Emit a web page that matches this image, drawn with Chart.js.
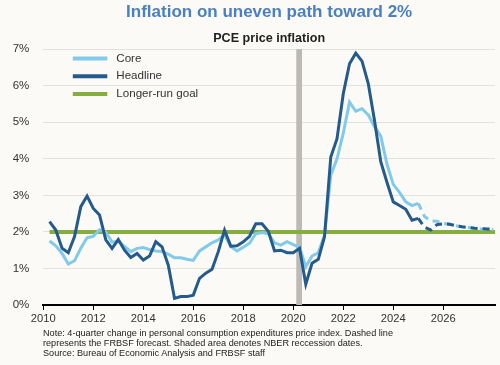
<!DOCTYPE html>
<html>
<head>
<meta charset="utf-8">
<script src="https://cdn.jsdelivr.net/npm/chart.js@4.4.1/dist/chart.umd.min.js"></script>
<style>
  html, body { margin: 0; padding: 0; background: #fbfaf7; }
  #wrap { position: relative; width: 500px; height: 365px; }
  #note {
    position: absolute; left: 43px; top: 329px;
    font: 9.15px "Liberation Sans", Arial, sans-serif; line-height: 9.8px; color: #222;
  }
</style>
</head>
<body>
<div id="wrap">
  <canvas id="chart" width="500" height="365"></canvas>
  <div id="note">
    Note: 4-quarter change in personal consumption expenditures price index. Dashed line<br>
    represents the FRBSF forecast. Shaded area denotes NBER reccession dates.<br>
    Source: Bureau of Economic Analysis and FRBSF staff
  </div>
</div>
<script>
// quarterly data, first quarter 2010Q1, plotted at quarter end
const firstYear = 2010;

// 2010Q1 - 2024Q4 (actual)
const coreActual = [
  1.75, 1.62, 1.41, 1.12,
  1.21, 1.55, 1.84, 1.88,
  2.06, 1.99, 1.72, 1.75,
  1.60, 1.46, 1.55, 1.57,
  1.52, 1.48, 1.46, 1.39,
  1.29, 1.29, 1.25, 1.22,
  1.48, 1.59, 1.70, 1.78,
  1.92, 1.60, 1.48, 1.58,
  1.69, 1.95, 1.98, 1.95,
  1.70, 1.64, 1.73, 1.65,
  1.58, 1.05, 1.34, 1.43,
  1.91, 3.55, 4.00, 4.70,
  5.55, 5.30, 5.37, 5.20,
  4.88, 4.62, 3.85, 3.30,
  3.08, 2.82, 2.72, 2.78
];
const headlineActual = [
  2.28, 2.05, 1.55, 1.43,
  1.87, 2.69, 2.98, 2.64,
  2.46, 1.78, 1.55, 1.79,
  1.50, 1.30, 1.41, 1.23,
  1.34, 1.73, 1.59, 1.09,
  0.18, 0.23, 0.23, 0.27,
  0.73, 0.87, 0.98, 1.46,
  2.05, 1.61, 1.62, 1.73,
  1.88, 2.22, 2.22, 2.02,
  1.48, 1.50, 1.43, 1.43,
  1.55, 0.57, 1.14, 1.25,
  1.87, 4.05, 4.55, 5.78,
  6.60, 6.89, 6.67, 6.06,
  5.05, 3.92, 3.35, 2.82,
  2.72, 2.62, 2.32, 2.37
];

// 2025Q1 - 2027Q4 (FRBSF forecast)
const coreForecast = [2.42, 2.30, 2.29, 2.23, 2.21, 2.17, 2.14, 2.12, 2.10, 2.08, 2.07, 2.06];
const headlineForecast = [2.13, 2.05, 2.20, 2.22, 2.21, 2.17, 2.14, 2.12, 2.10, 2.09, 2.08, 2.07];

const goalValue = 2;
const goalSpan = [2010.25, 2028.07];
const recession = [2020.12, 2020.35];
const xTicks = [2010, 2012, 2014, 2016, 2018, 2020, 2022, 2024, 2026];
const yTicks = [0, 1, 2, 3, 4, 5, 6, 7];

const colors = { core: '#82cae9', headline: '#245a8c', goal: '#86ad40' };

const toPoints = (values) => values.map((v, i) => ({ x: firstYear + (i + 1) / 4, y: v }));
const lastActualX = firstYear + coreActual.length / 4;
const dashAfter = (ctx) => (ctx.p0.parsed.x >= lastActualX ? [7, 5] : undefined);

const recessionPlugin = {
  id: 'recession',
  beforeDatasetsDraw(chart) {
    const { ctx, chartArea, scales } = chart;
    const x0 = scales.x.getPixelForValue(recession[0]);
    const x1 = scales.x.getPixelForValue(recession[1]);
    ctx.save();
    ctx.fillStyle = '#bdbab6';
    ctx.fillRect(x0, chartArea.top, x1 - x0, chartArea.bottom - chartArea.top);
    ctx.restore();
  },
};

const legendPlugin = {
  id: 'insideLegend',
  afterDraw(chart) {
    const { ctx, chartArea } = chart;
    ctx.save();
    ctx.font = '11.6px "Liberation Sans", Arial, sans-serif';
    ctx.textBaseline = 'middle';
    chart.data.datasets.forEach((ds, i) => {
      const y = chartArea.top + 9.3 + i * 17.8;
      ctx.strokeStyle = ds.borderColor;
      ctx.lineWidth = 4;
      ctx.beginPath();
      ctx.moveTo(chartArea.left + 29.5, y);
      ctx.lineTo(chartArea.left + 64, y);
      ctx.stroke();
      ctx.fillStyle = '#333';
      ctx.fillText(ds.label, chartArea.left + 73, y);
    });
    ctx.restore();
  },
};

new Chart(document.getElementById('chart'), {
  type: 'line',
  data: {
    datasets: [
      {
        label: 'Core',
        data: toPoints(coreActual.concat(coreForecast)),
        borderColor: colors.core,
        borderWidth: 3,
        segment: { borderDash: dashAfter },
        order: 1,
      },
      {
        label: 'Headline',
        data: toPoints(headlineActual.concat(headlineForecast)),
        borderColor: colors.headline,
        borderWidth: 3,
        segment: { borderDash: dashAfter },
        order: 0,
      },
      {
        label: 'Longer-run goal',
        data: goalSpan.map((x) => ({ x, y: goalValue })),
        borderColor: colors.goal,
        borderWidth: 4,
        order: 2,
      },
    ],
  },
  options: {
    responsive: false,
    animation: false,
    layout: { padding: { top: 0, right: 5, bottom: 38, left: 0 } },
    elements: {
      point: { radius: 0 },
      line: { tension: 0, borderCapStyle: 'butt', borderJoinStyle: 'miter' },
    },
    scales: {
      x: {
        type: 'linear',
        min: 2010,
        max: 2028.07,
        afterBuildTicks: (s) => { s.ticks = xTicks.map((v) => ({ value: v })); },
        afterFit: (s) => { s.height = 22; },
        grid: { drawOnChartArea: false, drawTicks: true, tickLength: 5, tickColor: '#000', tickWidth: 1 },
        border: { display: true, color: '#000', width: 2 },
        ticks: {
          padding: 2,
          color: '#333',
          font: { family: '"Liberation Sans", Arial, sans-serif', size: 11.2 },
          callback: (v) => String(v),
        },
      },
      y: {
        min: 0,
        max: 7,
        afterBuildTicks: (s) => { s.ticks = yTicks.map((v) => ({ value: v })); },
        afterFit: (s) => { s.width = 43.3; },
        grid: { color: '#e3e1dd', lineWidth: 1, drawTicks: false },
        border: { display: false },
        ticks: {
          padding: 14,
          color: '#333',
          font: { family: '"Liberation Sans", Arial, sans-serif', size: 11.5 },
          callback: (v) => v + '%',
        },
      },
    },
    plugins: {
      legend: { display: false },
      tooltip: { enabled: false },
      title: {
        display: true,
        fullSize: false,
        text: 'Inflation on uneven path toward 2%',
        color: '#4a80c2',
        font: { family: '"Liberation Sans", Arial, sans-serif', size: 17, weight: 'bold' },
        padding: { top: 2, bottom: 5 },
      },
      subtitle: {
        display: true,
        fullSize: false,
        text: 'PCE price inflation',
        color: '#222',
        font: { family: '"Liberation Sans", Arial, sans-serif', size: 12.6, weight: 'bold' },
        padding: { top: 4, bottom: 2.6 },
      },
    },
  },
  plugins: [recessionPlugin, legendPlugin],
});
</script>
</body>
</html>
